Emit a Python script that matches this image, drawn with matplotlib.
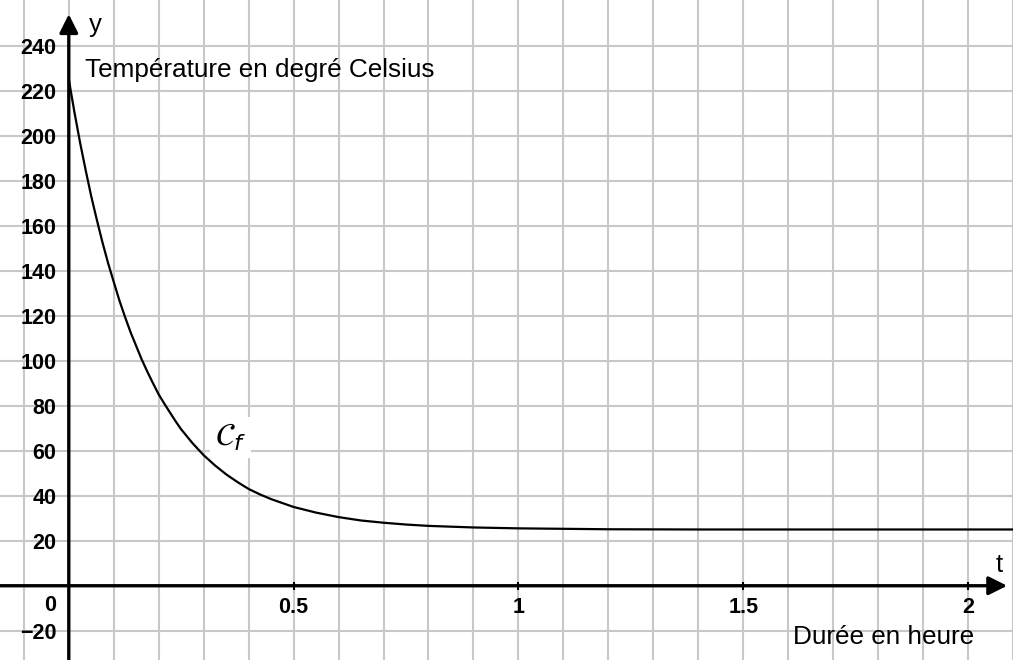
import matplotlib.pyplot as plt
import numpy as np

# ==========================================
# Données (courbe C_f)
# ==========================================
t_values = [0.0, 0.0125, 0.025, 0.0375, 0.05, 0.0625, 0.075, 0.0875, 0.1, 0.1125,
            0.125, 0.1375, 0.15, 0.1625, 0.175, 0.1875, 0.2, 0.2125, 0.225, 0.2375,
            0.25, 0.275, 0.3, 0.325, 0.35, 0.375, 0.4, 0.425, 0.45, 0.5, 0.55, 0.6,
            0.65, 0.7, 0.75, 0.8, 0.9, 1.0, 1.1, 1.2, 1.4, 1.6, 1.8, 2.0, 2.1]
temp_values = [225, 210.5, 197, 184.7, 173, 162.5, 152.5, 143.3, 135, 126.8,
               119.5, 112.6, 106.5, 100.4, 95, 89.9, 85, 80.9, 77, 73.1,
               69.5, 63.4, 58, 53.5, 49.5, 46.1, 43, 40.6, 38.5, 35, 32.5, 30.5,
               29, 28, 27.2, 26.6, 25.9, 25.5, 25.3, 25.1, 25.0, 25.0, 25.0, 25.0, 25.0]

y_ticks = [-20, 20, 40, 60, 80, 100, 120, 140, 160, 180, 200, 220, 240]
x_ticks = [0.5, 1, 1.5, 2]
x_tick_labels = ["0.5", "1", "1.5", "2"]

plt.rcParams['font.family'] = ['Liberation Sans', 'DejaVu Sans']

fig = plt.figure(figsize=(10.13, 6.6), dpi=100)
ax = fig.add_axes([0, 0, 1, 1])
ax.set_xlim(-0.153, 2.093)
ax.set_ylim(-33, 260.3)

# axes passant par l'origine
for side in ['left', 'bottom']:
    ax.spines[side].set_position(('data', 0))
    ax.spines[side].set_color('none')
for side in ['right', 'top']:
    ax.spines[side].set_visible(False)

# grille
ax.set_xticks(np.arange(-0.1, 2.11, 0.1), minor=True)
ax.set_xticks(x_ticks)
ax.set_xticklabels(x_tick_labels, fontsize=15.5, fontweight='bold')
ax.set_yticks(y_ticks)
ax.set_yticklabels([str(v).replace('-', '\u2212') for v in y_ticks], fontsize=15.5, fontweight='bold')
ax.xaxis.grid(True, which='both', color='#c8c8c8', lw=1.5)
ax.yaxis.grid(True, which='major', color='#c8c8c8', lw=1.5)
ax.set_axisbelow(True)
ax.tick_params(axis='x', which='major', direction='inout', length=6, width=1.5, pad=5)
ax.tick_params(axis='x', which='minor', length=0)
ax.tick_params(axis='y', length=0, pad=9)

# axes fléchés
ax.annotate("", xy=(0, 254), xytext=(0, -34),
            arrowprops=dict(arrowstyle="-|>", lw=2.4, color="black", mutation_scale=28,
                            shrinkA=0, shrinkB=0))
ax.annotate("", xy=(2.087, 0), xytext=(-0.153, 0),
            arrowprops=dict(arrowstyle="-|>", lw=2.4, color="black", mutation_scale=28,
                            shrinkA=0, shrinkB=0))

# courbe
ax.plot(t_values, temp_values, color='black', lw=1.6, zorder=3)

# textes
ax.annotate("0", xy=(0, 0), xytext=(-19, -20), textcoords='offset pixels',
            ha='center', va='center', fontsize=15.5, fontweight='bold')
ax.text(0.058, 249, "y", fontsize=18.5, ha='center', va='center')
ax.text(2.07, 9, "t", fontsize=18.5, ha='center', va='center')
ax.text(0.035, 229, "Température en degré Celsius", fontsize=18.8, ha='left', va='center')
ax.text(1.61, -23, "Durée en heure", fontsize=18.8, ha='left', va='center')
ax.text(0.36, 66, r"$\mathcal{C}_f$", fontsize=23, ha='center', va='center',
        bbox=dict(boxstyle="square,pad=0.15", fc="white", ec="none"), zorder=2)

plt.savefig("out.png", dpi=100)
plt.close()
